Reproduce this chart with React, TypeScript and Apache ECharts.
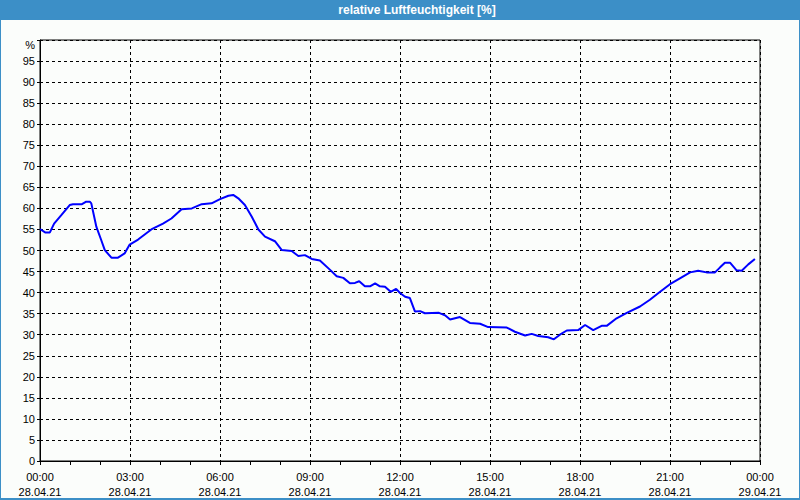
import React, { useEffect, useRef } from "react";
import * as echarts from "echarts";

const titleText = "relative Luftfeuchtigkeit [%]";
const dateLabels = ["28.04.21", "29.04.21"];

const hours = [
  0, 0.17, 0.33, 0.47, 0.71, 0.99, 1.1, 1.4, 1.54, 1.66,
  1.71, 1.88, 2.04, 2.16, 2.38, 2.6, 2.82, 2.99, 3.27, 3.71,
  4.1, 4.38, 4.72, 5.06, 5.39, 5.72, 6.0, 6.28, 6.44, 6.61,
  6.83, 7.06, 7.28, 7.5, 7.83, 8.06, 8.39, 8.61, 8.83, 9.06,
  9.33, 9.67, 9.89, 10.11, 10.33, 10.5, 10.64, 10.83, 11.0, 11.17,
  11.33, 11.5, 11.69, 11.87, 12.0, 12.17, 12.33, 12.5, 12.67, 12.83,
  13.3, 13.5, 13.67, 14.0, 14.33, 14.67, 14.94, 15.56, 15.83, 16.17,
  16.39, 16.61, 16.94, 17.13, 17.33, 17.56, 17.94, 18.17, 18.44, 18.72,
  18.89, 19.22, 19.56, 20.0, 20.33, 20.67, 21.0, 21.33, 21.67, 21.94,
  22.22, 22.5, 22.67, 22.83, 23.0, 23.22, 23.39, 23.61, 23.83,
];

const humidity = [
  55.1, 54.3, 54.3, 56.4, 58.4, 60.8, 61.0, 61.0, 61.6, 61.6,
  61.2, 55.6, 52.5, 50.1, 48.3, 48.3, 49.3, 51.4, 52.6, 55.0,
  56.4, 57.6, 59.8, 60.0, 61.0, 61.2, 62.2, 63.0, 63.2, 62.4,
  60.8, 58.0, 55.0, 53.3, 52.2, 50.1, 49.9, 48.7, 48.9, 48.0,
  47.6, 45.4, 43.9, 43.5, 42.2, 42.3, 42.7, 41.5, 41.5, 42.2,
  41.5, 41.4, 40.2, 40.9, 39.9, 39.0, 38.7, 35.5, 35.6, 35.1,
  35.2, 34.6, 33.6, 34.2, 32.8, 32.6, 31.8, 31.7, 30.7, 29.8,
  30.2, 29.7, 29.4, 28.9, 30.0, 31.0, 31.1, 32.3, 31.1, 32.1,
  32.1, 33.9, 35.2, 36.7, 38.3, 40.2, 42.0, 43.4, 44.8, 45.2,
  44.8, 44.8, 46.0, 47.1, 47.1, 45.3, 45.2, 46.7, 48.0,
];

const FONT = "Liberation Sans";

export default function App() {
  const ref = useRef<HTMLDivElement>(null);
  useEffect(() => {
    const chart = echarts.init(ref.current!, null, { renderer: "svg" });
    const data = hours.map((h, i) => [h, humidity[i]]);
    chart.setOption({
      animation: false,
      backgroundColor: "#fbfdfb",
      grid: {
        left: 40,
        right: 40,
        top: 40,
        bottom: 39,
        show: true,
        borderColor: "#000",
        borderWidth: 1,
        backgroundColor: "transparent",
      },
      graphic: [
        { type: "rect", shape: { x: 0, y: 0, width: 800, height: 20 }, style: { fill: "#3c8fc7" } },
        { type: "rect", shape: { x: 0, y: 0, width: 1, height: 500 }, style: { fill: "#3c8fc7" } },
        { type: "rect", shape: { x: 799, y: 0, width: 1, height: 500 }, style: { fill: "#3c8fc7" } },
        { type: "rect", shape: { x: 0, y: 498, width: 800, height: 2 }, style: { fill: "#3c8fc7" } },
        {
          type: "text",
          x: 417,
          y: 10,
          style: {
            text: titleText,
            fill: "#fff",
            font: `bold 12px "${FONT}"`,
            align: "center",
            verticalAlign: "middle",
          },
        },
      ],
      xAxis: {
        type: "value",
        min: 0,
        max: 24,
        interval: 3,
        axisLine: { show: true, lineStyle: { color: "#000", width: 1 } },
        axisTick: { show: true, length: 4, lineStyle: { color: "#000" } },
        minorTick: { show: true, splitNumber: 3, length: 4, lineStyle: { color: "#000" } },
        splitLine: { show: true, lineStyle: { color: "#000", type: [3, 3], width: 1 } },
        axisLabel: {
          color: "#000",
          fontFamily: FONT,
          fontSize: 11,
          lineHeight: 15,
          margin: 8,
          formatter: (v: number) => {
            const h = Math.round(v) % 24;
            const hh = (h < 10 ? "0" : "") + h + ":00";
            return hh + "\n" + (v >= 24 ? dateLabels[1] : dateLabels[0]);
          },
        },
      },
      yAxis: {
        type: "value",
        min: 0,
        max: 100,
        interval: 5,
        axisLine: { show: true, lineStyle: { color: "#000", width: 1 } },
        axisTick: { show: true, length: 3, lineStyle: { color: "#000" } },
        splitLine: { show: true, lineStyle: { color: "#000", type: [3, 3], width: 1 } },
        axisLabel: {
          color: "#000",
          fontFamily: FONT,
          fontSize: 11,
          margin: 5,
          formatter: (v: number) => (v >= 100 ? "{p|%}" : String(v)),
          rich: { p: { fontFamily: FONT, fontSize: 11, color: "#000", padding: [10, 0, 0, 0] } },
        },
      },
      series: [
        {
          type: "line",
          data,
          showSymbol: false,
          lineStyle: { color: "#0000ff", width: 2 },
          itemStyle: { color: "#0000ff" },
        },
      ],
    });
    return () => chart.dispose();
  }, []);
  return (
    <div
      ref={ref}
      style={{ position: "fixed", left: 0, top: 0, width: 800, height: 500 }}
    />
  );
}
